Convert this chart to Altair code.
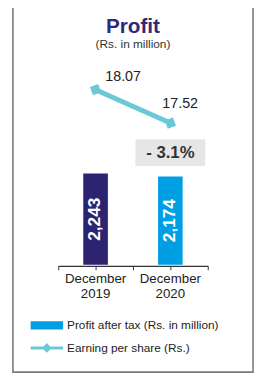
import altair as alt
import pandas as pd

# ---- data -------------------------------------------------------------
years = ["December 2019", "December 2020"]
profit = [2243, 2174]               # Profit after tax (Rs. in million)
eps = [18.07, 17.52]                # Earning per share (Rs.)
change = [None, "- 3.1%"]           # year-on-year change label
series = ["Profit after tax (Rs. in million)", "Earning per share (Rs.)"]

# ---- styling ----------------------------------------------------------
NAVY = "#2c2371"
BLUE = "#009fe3"
TEAL = "#6cc8d6"
FONT = "Liberation Sans"

W, H = 152, 204

df = pd.DataFrame({"year": years, "profit": profit, "eps": eps, "change": change})
leg = pd.DataFrame({"series": series})

xscale = alt.Scale(domain=years, paddingInner=0, paddingOuter=0)
bar_y = alt.Scale(domain=[0, 4936], nice=False, zero=True)
eps_y = alt.Scale(domain=[15.19, 18.49], nice=False, zero=False)

x_main = alt.X(
    "year:N", scale=xscale, title=None,
    axis=alt.Axis(orient="bottom", labelExpr="split(datum.label, ' ')", labelAngle=0,
                  labelFontSize=13.5, labelLineHeight=15, labelColor="#222", labelPadding=2,
                  labelFont=FONT, tickSize=4, tickColor="#333", tickWidth=1,
                  domainColor="#333", domainWidth=1.3, offset=1, grid=False),
)
x_ext = alt.X(
    "year:N", scale=xscale, title=None,
    axis=alt.Axis(orient="bottom", tickBand="extent", labels=False, domain=False,
                  tickSize=4, tickColor="#333", tickWidth=1, offset=1, grid=False),
)
x_none = alt.X("year:N", scale=xscale, axis=None)

base = alt.Chart(df)

# decorative frame around the whole panel (top edge falls outside the page)
frame = alt.Chart(alt.Data(values=[{"f": 1}])).mark_rect(
    fill="white", fillOpacity=0, stroke="#7a7a7a", strokeWidth=1.6
).encode(
    x=alt.value(-46), x2=alt.value(198), y=alt.value(-70), y2=alt.value(313)
)

bars = base.mark_bar(size=25).encode(
    x=x_main,
    y=alt.Y("profit:Q", scale=bar_y, axis=None),
    color=alt.condition(alt.datum.year == years[0], alt.value(NAVY), alt.value(BLUE)),
)

bar_labels = base.transform_calculate(mid="datum.profit / 2").mark_text(
    angle=270, color="white", fontWeight="bold", fontSize=17.5, font=FONT,
    align="center", baseline="middle",
).encode(
    x=x_ext,
    y=alt.Y("mid:Q", scale=bar_y, axis=None),
    text=alt.Text("profit:Q", format=","),
)

box = base.transform_filter("datum.change != null").mark_point(
    shape="M-1,-0.38H1V0.38H-1Z", size=5041, filled=True, opacity=1,
    color="#e6e6e6", strokeWidth=0, yOffset=-24,
).encode(
    x=x_none, y=alt.Y("profit:Q", scale=bar_y, axis=None)
)

box_text = base.transform_filter("datum.change != null").mark_text(
    fontWeight="bold", fontSize=17, font=FONT, color="#333", baseline="middle",
    align="center", yOffset=-24,
).encode(
    x=x_none, y=alt.Y("profit:Q", scale=bar_y, axis=None), text="change:N"
)

line = base.mark_line(color=TEAL, strokeWidth=5).encode(
    x=x_none, y=alt.Y("eps:Q", scale=eps_y, axis=None)
)
pts = base.mark_point(shape="diamond", filled=True, size=160, color=TEAL,
                      opacity=1, angle=25).encode(
    x=x_none, y=alt.Y("eps:Q", scale=eps_y, axis=None)
)
lab1 = base.transform_filter(alt.datum.year == years[0]).mark_text(
    dx=28, dy=-13, fontSize=14.5, font=FONT, color="#222", baseline="middle"
).encode(
    x=x_none, y=alt.Y("eps:Q", scale=eps_y, axis=None),
    text=alt.Text("eps:Q", format=".2f"),
)
lab2 = base.transform_filter(alt.datum.year == years[1]).mark_text(
    dx=10, dy=-19, fontSize=14.5, font=FONT, color="#222", baseline="middle"
).encode(
    x=x_none, y=alt.Y("eps:Q", scale=eps_y, axis=None),
    text=alt.Text("eps:Q", format=".2f"),
)

RECT = "M-1,-0.26H1V0.26H-1Z"
LINE = "M-1,-0.09H1V0.09H-1Z M0,-0.3L0.3,0L0,0.3L-0.3,0Z"
L = alt.Legend(title=None, orient="none", legendX=-28, legendY=249, symbolSize=1089,
               symbolStrokeWidth=0, labelFontSize=12, labelFont=FONT, labelColor="#222",
               labelOffset=4, rowPadding=-11, padding=0, symbolOpacity=1, labelLimit=300)
legend_layer = alt.Chart(leg).transform_filter("false").mark_point(
    filled=True, opacity=1, size=1089
).encode(
    color=alt.Color("series:N", scale=alt.Scale(domain=series, range=[BLUE, TEAL]), legend=L),
    shape=alt.Shape("series:N", scale=alt.Scale(domain=series, range=[RECT, LINE]), legend=L),
)

chart = alt.layer(
    frame, bars, bar_labels, box, box_text, line, pts, lab1, lab2, legend_layer
).resolve_scale(
    y="independent"
).resolve_axis(
    x="independent"
).properties(
    width=W, height=H,
    title=alt.TitleParams(
        text="Profit", subtitle="(Rs. in million)", anchor="middle",
        font=FONT, fontSize=21, fontWeight="bold", color="#2e2a78",
        subtitleFont=FONT, subtitleFontSize=12, subtitleColor="#333",
        subtitlePadding=2, offset=-56,
    ),
    padding={"left": 51, "top": 54, "right": 47, "bottom": 112},
    autosize=alt.AutoSizeParams(type="none"),
).configure_view(
    strokeOpacity=0
)

chart.save("out.html", embed_options={"renderer": "svg", "actions": False})
